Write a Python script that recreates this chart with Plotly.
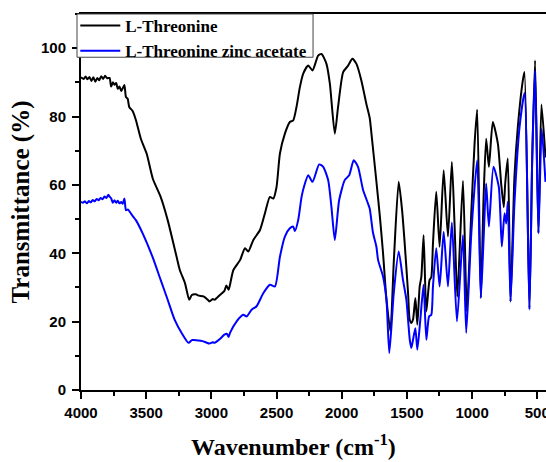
import plotly.graph_objects as go

# L-Threonine (black)
wn_thr = [4000, 3980, 3965, 3950, 3935, 3920, 3905, 3890, 3875, 3860, 3845, 3830, 3815, 3800,
          3781, 3769, 3755, 3743, 3730, 3718, 3705, 3692, 3680, 3667, 3655, 3642, 3630, 3604,
          3579, 3541, 3496, 3449, 3389, 3335, 3270, 3242, 3202, 3170, 3150, 3120, 3095, 3060,
          3030, 3015, 2990, 2975, 2935, 2900, 2885, 2868, 2857, 2831, 2780, 2742, 2717, 2678,
          2627, 2589, 2551, 2525, 2500, 2474, 2436, 2398, 2372, 2347, 2321, 2296, 2257, 2224,
          2181, 2155, 2117, 2091, 2053, 2028, 1989, 1951, 1918, 1887, 1849, 1811, 1785, 1772,
          1734, 1708, 1683, 1658, 1627, 1600, 1563, 1537, 1517, 1491, 1479, 1466, 1453, 1435,
          1420, 1402, 1389, 1372, 1351, 1326, 1313, 1300, 1275, 1249, 1218, 1185, 1155, 1134,
          1113, 1070, 1040, 1006, 981, 961, 933, 912, 892, 871, 841, 802, 777, 757, 746, 726,
          705, 675, 649, 611, 598, 560, 539, 517, 491, 468, 437]
t_thr = [91.5, 91.0, 91.7, 90.9, 91.6, 90.4, 91.5, 90.2, 91.3, 90.6, 91.8, 91.0, 91.9, 91.2,
         91.3, 88.8, 90.0, 89.3, 89.8, 88.1, 88.8, 87.5, 88.3, 89.2, 85.7, 85.2, 82.8, 81.6,
         79.0, 73.5, 69.1, 61.8, 56.5, 49.7, 39.5, 35.1, 31.2, 26.4, 27.8, 28.0, 27.6, 27.4,
         26.5, 25.9, 26.6, 26.4, 27.8, 29.0, 30.6, 29.3, 30.8, 35.1, 38.0, 41.5, 40.5, 43.9,
         46.8, 51.7, 56.5, 56.0, 59.4, 69.2, 75.0, 78.4, 78.9, 82.8, 88.6, 92.5, 94.9, 93.5,
         97.8, 98.3, 95.4, 89.6, 75.0, 82.8, 93.0, 94.9, 96.9, 95.4, 90.5, 83.7, 79.5, 75.0,
         61.0, 51.0, 40.0, 27.0, 17.2, 38.0, 60.9, 52.6, 42.9, 28.3, 20.6, 19.6, 20.6, 26.9,
         19.1, 30.3, 33.2, 45.3, 23.0, 32.2, 33.0, 42.9, 58.0, 41.9, 64.3, 44.9, 66.7, 47.8,
         27.3, 61.2, 23.0, 52.0, 72.0, 82.0, 27.0, 56.0, 73.5, 65.3, 78.4, 72.0, 60.4, 53.5,
         60.4, 67.7, 25.9, 62.4, 77.0, 90.5, 93.0, 24.0, 67.2, 96.4, 46.0, 83.5, 68.0]

# L-Threonine zinc acetate (blue)
wn_zn = [4000, 3985, 3970, 3955, 3940, 3925, 3910, 3895, 3880, 3865, 3850, 3835, 3820, 3805,
         3790, 3781, 3768, 3756, 3743, 3730, 3718, 3705, 3692, 3680, 3667, 3655, 3640, 3617,
         3579, 3528, 3452, 3389, 3335, 3282, 3228, 3175, 3150, 3135, 3100, 3068, 3040, 3015,
         2990, 2975, 2935, 2900, 2880, 2868, 2857, 2806, 2755, 2729, 2691, 2653, 2602, 2551,
         2512, 2474, 2436, 2398, 2372, 2359, 2334, 2308, 2290, 2257, 2224, 2173, 2142, 2104,
         2079, 2053, 2020, 1977, 1943, 1908, 1875, 1836, 1798, 1785, 1760, 1734, 1721, 1683,
         1657, 1635, 1601, 1563, 1530, 1504, 1487, 1478, 1466, 1453, 1435, 1420, 1397, 1372,
         1351, 1330, 1313, 1300, 1275, 1249, 1218, 1185, 1155, 1116, 1070, 1045, 1006, 961,
         933, 912, 892, 871, 836, 795, 772, 751, 738, 726, 705, 675, 636, 598, 560, 539, 517,
         491, 466, 437]
t_zn = [55.0, 54.8, 55.2, 54.6, 55.3, 54.9, 55.6, 55.2, 55.9, 55.5, 56.2, 55.8, 56.6, 56.2,
        57.1, 56.6, 56.0, 54.8, 55.5, 54.8, 55.4, 54.6, 55.0, 54.5, 56.0, 52.6, 52.8, 51.6,
        49.7, 45.9, 39.0, 32.2, 26.4, 20.6, 16.7, 13.8, 14.6, 14.6, 14.5, 14.3, 13.9, 13.6,
        14.0, 13.8, 14.9, 16.2, 16.4, 15.5, 16.7, 20.1, 22.0, 21.5, 23.5, 24.5, 28.3, 30.8,
        30.3, 39.0, 44.9, 47.3, 47.8, 46.5, 49.7, 56.5, 59.4, 62.8, 60.9, 66.0, 65.3, 61.4,
        53.6, 43.9, 55.5, 61.4, 62.8, 67.2, 65.3, 58.5, 54.5, 53.0, 46.0, 41.9, 38.0, 33.2,
        26.4, 10.8, 28.3, 40.5, 32.2, 26.4, 18.6, 14.7, 12.3, 14.7, 18.1, 11.8, 20.6, 30.8,
        14.7, 21.5, 22.0, 30.3, 41.5, 30.3, 46.3, 30.3, 49.0, 20.1, 45.3, 16.7, 45.8, 67.2,
        26.9, 43.9, 60.4, 47.8, 65.3, 59.4, 42.0, 51.7, 48.7, 55.1, 25.9, 54.6, 76.9, 86.9,
        23.5, 67.2, 93.4, 45.8, 76.4, 60.9]

x_ticks = [4000, 3500, 3000, 2500, 2000, 1500, 1000, 500]
y_ticks = [0, 20, 40, 60, 80, 100]

fig = go.Figure()
fig.add_trace(go.Scatter(x=wn_thr, y=t_thr, mode="lines", name="L-Threonine",
                         line=dict(color="#000000", width=2, shape="spline", smoothing=0.6)))
fig.add_trace(go.Scatter(x=wn_zn, y=t_zn, mode="lines", name="L-Threonine zinc acetate",
                         line=dict(color="#0000ff", width=2, shape="spline", smoothing=0.6)))

tickfont = dict(family="Liberation Sans", size=15, color="black", weight="bold")
fig.update_layout(
    width=546, height=462,
    margin=dict(l=81, r=0, t=14, b=72),
    plot_bgcolor="white", paper_bgcolor="white",
    showlegend=True,
    legend=dict(x=-0.0123, y=1.016, xanchor="left", yanchor="top",
                bgcolor="rgba(0,0,0,0)", borderwidth=0,
                font=dict(family="Liberation Serif", size=17, color="black", weight="bold"),
                tracegroupgap=0, itemwidth=40),
    xaxis=dict(range=[4000, 433], tickvals=x_ticks, ticktext=[str(v) for v in x_ticks],
               ticks="outside", ticklen=7, tickwidth=2, tickcolor="black",
               minor=dict(dtick=250, ticks="outside", ticklen=4, tickwidth=2, tickcolor="black"),
               showline=True, linewidth=2, linecolor="black", mirror=True,
               showgrid=False, zeroline=False, tickfont=tickfont, ticklabelstandoff=1,
               automargin=False, ticklabeloverflow="allow"),
    yaxis=dict(range=[0, 110], tickvals=y_ticks, ticktext=[str(v) for v in y_ticks],
               ticks="outside", ticklen=7, tickwidth=2, tickcolor="black",
               minor=dict(dtick=10, ticks="outside", ticklen=4, tickwidth=2, tickcolor="black"),
               showline=True, linewidth=2, linecolor="black", mirror=False,
               showgrid=False, zeroline=False, tickfont=tickfont, ticklabelstandoff=3,
               automargin=False, ticklabeloverflow="allow"),
    shapes=[dict(type="rect", xref="paper", yref="paper", x0=-0.0086, x1=0.499,
                 y0=0.885, y1=1.0, fillcolor="white", layer="above",
                 line=dict(color="#444444", width=1))],
    annotations=[
        dict(text="Wavenumber (cm<sup>-1</sup>)", xref="paper", yref="paper",
             x=0.456, y=-0.145, xanchor="center", yanchor="middle", showarrow=False,
             font=dict(family="Liberation Serif", size=24, color="black", weight="bold")),
        dict(text="Transmittance (%)", xref="paper", yref="paper", textangle=-90,
             x=-0.128, y=0.5, xanchor="center", yanchor="middle", showarrow=False,
             font=dict(family="Liberation Serif", size=25, color="black", weight="bold")),
    ],
)
fig.write_html("out.html", config={"displayModeBar": False},
               post_script="document.body.style.margin='0px';")
